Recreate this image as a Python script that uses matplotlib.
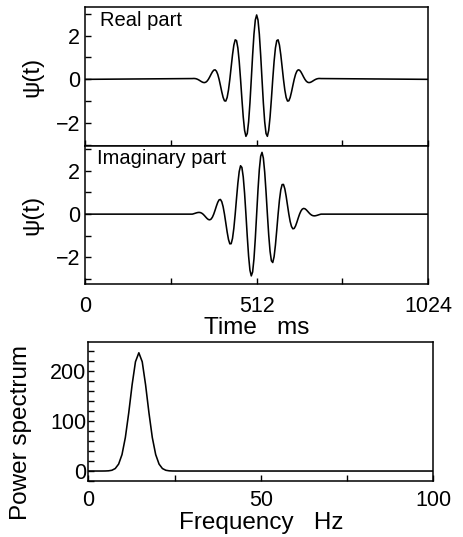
import numpy as np
import matplotlib
matplotlib.use("Agg")
import matplotlib.pyplot as plt

plt.rcParams['font.family'] = ['Liberation Sans', 'DejaVu Sans']

# ---- data ----
time_ms = [0] + list(range(320, 705, 4)) + [1024]

real_part = [0.0,
    0.036, 0.040, 0.037, 0.024, 0, -0.033, -0.072, -0.110, -0.139, -0.149, -0.133, -0.083,
    0, 0.109, 0.230, 0.341, 0.418, 0.435, 0.374, 0.227, 0, -0.281, -0.573, -0.825,
    -0.981, -0.991, -0.827, -0.485, 0, 0.565, 1.121, 1.566, 1.805, 1.769, 1.431, 0.815,
    0, -0.893, -1.718, -2.327, -2.602, -2.474, -1.941, -1.073, 0, 1.106, 2.063, 2.711,
    2.94,
    2.711, 2.063, 1.106, 0, -1.073, -1.941, -2.474, -2.602, -2.327, -1.718, -0.893, 0,
    0.815, 1.431, 1.769, 1.805, 1.566, 1.121, 0.565, 0, -0.485, -0.827, -0.991, -0.981,
    -0.825, -0.573, -0.281, 0, 0.227, 0.374, 0.435, 0.418, 0.341, 0.230, 0.109, 0,
    -0.083, -0.133, -0.149, -0.139, -0.110, -0.072, -0.033, 0, 0.024, 0.037, 0.040, 0.036,
    0.0]

imag_part = [0.0,
    0, 0.017, 0.037, 0.057, 0.073, 0.080, 0.072, 0.046, 0, -0.062, -0.133, -0.200,
    -0.249, -0.263, -0.230, -0.141, 0, 0.180, 0.374, 0.547, 0.660, 0.677, 0.573, 0.342,
    0, -0.410, -0.827, -1.171, -1.371, -1.365, -1.121, -0.649, 0, 0.733, 1.431, 1.968,
    2.234, 2.156, 1.718, 0.964, 0, -1.025, -1.941, -2.590, -2.852, -2.670, -2.063, -1.123,
    0,
    1.123, 2.063, 2.670, 2.852, 2.590, 1.941, 1.025, 0, -0.964, -1.718, -2.156, -2.234,
    -1.968, -1.431, -0.733, 0, 0.649, 1.121, 1.365, 1.371, 1.171, 0.827, 0.410, 0,
    -0.342, -0.573, -0.677, -0.660, -0.547, -0.374, -0.180, 0, 0.141, 0.230, 0.263, 0.249,
    0.200, 0.133, 0.062, 0, -0.046, -0.072, -0.080, -0.073, -0.057, -0.037, -0.017, 0,
    0.0]

freq_hz = [0, 0.98, 1.95, 2.93, 3.91, 4.88, 5.86, 6.84, 7.81, 8.79, 9.77, 10.74,
           11.72, 12.70, 13.67, 14.65, 15.63, 16.60, 17.58, 18.55, 19.53, 20.51,
           21.48, 22.46, 23.44, 24.41, 25.39, 100]
power = [0, 0, 0, 0, 0, 0.08, 0.40, 1.53, 4.98, 13.9, 33.0, 67.2,
         116.6, 172.9, 219.0, 237.0, 219.0, 172.9, 116.6, 67.2, 33.0, 13.9,
         4.98, 1.53, 0.40, 0.08, 0, 0]

time_ticks = [0, 256, 512, 768, 1024]
time_labels = ['0', '', '512', '', '1024']
psi_ticks = [-3, -2, -1, 0, 1, 2, 3]
psi_labels = ['', '\u22122', '', '0', '', '2', '']
freq_ticks = [0, 25, 50, 75, 100]
freq_labels = ['0', '', '50', '', '100']
pow_ticks = list(range(-20, 260, 20))
pow_labels = [str(v) if v in (0, 100, 200) else '' for v in pow_ticks]

# ---- figure ----
W, H = 463, 537
fig = plt.figure(figsize=(W / 100, H / 100), dpi=100)

def box(l, t, r, b):
    return [l / W, 1 - b / H, (r - l) / W, (b - t) / H]

ax1 = fig.add_axes(box(85, 7.3, 428.3, 145.7))
ax2 = fig.add_axes(box(85, 145.7, 428.3, 284.3))
ax3 = fig.add_axes(box(88.3, 342.3, 433.3, 481))

TICK_FS = 15.5
LAB_FS = 17.5
for ax in (ax1, ax2, ax3):
    for s in ax.spines.values():
        s.set_linewidth(1.1)
    ax.tick_params(direction='in', length=4, width=1.0, labelsize=TICK_FS,
                   top=False, right=False)

ax1.plot(time_ms, real_part, color='black', lw=1.15)
ax2.plot(time_ms, imag_part, color='black', lw=1.15)
ax3.plot(freq_hz, power, color='black', lw=1.15)

for ax, lim in ((ax1, (-3.03, 3.29)), (ax2, (-3.24, 3.16))):
    ax.set_xlim(0, 1024)
    ax.set_ylim(*lim)
    ax.set_xticks(time_ticks)
    ax.set_yticks(psi_ticks)
    ax.set_yticklabels(psi_labels)
    ax.set_ylabel('\u03c8(t)', fontsize=LAB_FS)
    ax.yaxis.set_label_coords(-0.122, 0.5)
    ax.tick_params(axis='y', pad=3.5)

ax1.set_xticklabels([])
ax2.set_xticklabels(time_labels)
ax2.tick_params(axis='x', pad=8.5)
ax2.set_xlabel('Time   ms', fontsize=LAB_FS, labelpad=0)

ax1.text(0.044, 0.975, 'Real part', transform=ax1.transAxes, fontsize=14.5,
         ha='left', va='top')
ax2.text(0.034, 0.975, 'Imaginary part', transform=ax2.transAxes, fontsize=14.5,
         ha='left', va='top')

ax3.set_xlim(0, 100)
ax3.set_ylim(-20, 258)
ax3.set_xticks(freq_ticks)
ax3.set_xticklabels(freq_labels)
ax3.set_yticks(pow_ticks)
ax3.set_yticklabels(pow_labels)
ax3.tick_params(axis='x', pad=6.5)
ax3.tick_params(axis='y', pad=1.5)
ax3.set_xlabel('Frequency   Hz', fontsize=LAB_FS, labelpad=0.5)
ax3.set_ylabel('Power spectrum', fontsize=LAB_FS)
ax3.yaxis.set_label_coords(-0.163, 0.353)

fig.savefig('out.png', dpi=100)
